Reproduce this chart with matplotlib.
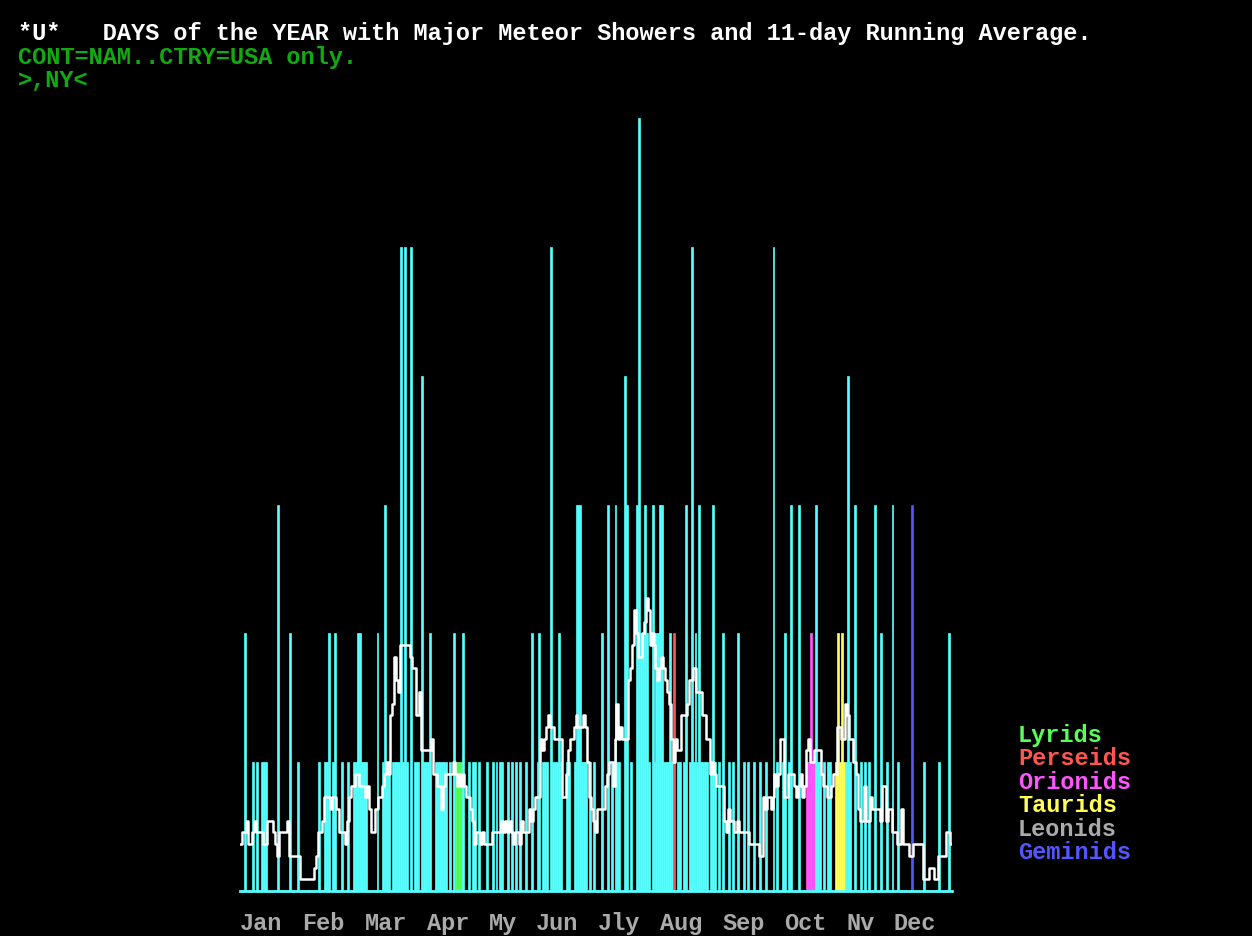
import re
import numpy as np
import pandas as pd
import matplotlib
matplotlib.use("Agg")
import matplotlib.pyplot as plt

W, H = 1252, 936

# day of year (0 = Jan 1) and count for that day, one line per month
bar_day = [
    2, 6, 8, 11, 12, 13, 19, 25, 29,
    40, 43, 44, 45, 47, 48, 52, 55, 58,
    59, 60, 61, 62, 63, 64, 70, 73, 74, 75, 76, 78, 79, 80, 81, 82, 83, 84, 85, 87, 89,
    90, 91, 93, 94, 95, 96, 97, 100, 101, 102, 103, 104, 105, 107, 109, 110, 111, 112, 113, 114, 117, 119,
    120, 122, 126, 129, 131, 133, 134, 137, 139, 141, 143, 146, 149,
    152, 153, 155, 156, 157, 159, 160, 161, 162, 163, 164, 167, 168, 171, 172, 173, 174, 175, 176, 177, 179,
    181, 185, 188, 190, 192, 193, 194, 197, 198, 200, 203, 204, 205, 206, 207, 208, 209, 211,
    212, 213, 214, 215, 216, 217, 218, 219, 220, 221, 222, 224, 225, 227, 228, 230, 231, 232, 233, 234,
    235, 236, 237, 238, 239, 241, 242,
    243, 245, 247, 250, 252, 255, 258, 260, 263, 266, 269,
    273, 275, 278, 279, 281, 282, 286, 290, 291, 292, 293, 294, 295, 296, 297, 299, 301, 302,
    305, 306, 307, 308, 309, 310, 311, 312, 315, 318, 320, 322, 325, 328, 331,
    334, 337, 344, 350, 358, 363,
]
bar_count = [
    2, 1, 1, 1, 1, 1, 3, 2, 1,
    1, 1, 1, 2, 1, 2, 1, 1, 1,
    1, 2, 2, 1, 1, 1, 2, 1, 3, 1, 1, 1, 1, 1, 1, 5, 1, 5, 1, 5, 1,
    1, 1, 4, 1, 1, 1, 2, 1, 1, 1, 1, 1, 1, 1, 2, 1, 1, 1, 1, 2, 1, 1,
    1, 1, 1, 1, 1, 1, 1, 1, 1, 1, 1, 1, 2,
    1, 2, 1, 1, 1, 5, 1, 1, 1, 2, 1, 1, 1, 1, 3, 3, 3, 1, 1, 1, 1,
    1, 2, 3, 1, 3, 1, 1, 4, 3, 1, 3, 6, 2, 2, 3, 2, 1, 3,
    1, 2, 2, 3, 3, 1, 1, 1, 2, 1, 2, 1, 1, 1, 3, 1, 5, 1, 2, 1,
    3, 1, 1, 1, 1, 1, 3,
    1, 1, 2, 1, 1, 2, 1, 1, 1, 1, 1,
    5, 1, 1, 2, 1, 3, 3, 1, 1, 2, 1, 1, 3, 1, 1, 1, 1, 1,
    1, 2, 1, 2, 1, 1, 4, 1, 3, 1, 1, 1, 3, 2, 1,
    3, 1, 3, 1, 1, 2,
]

shower_names = ["Lyrids", "Perseids", "Orionids", "Taurids", "Leonids", "Geminids"]
shower_colors = ["#55ff55", "#ff5555", "#ff55ff", "#ffff55", "#aaaaaa", "#5555ff"]
shower_days = [[110, 111, 112, 113], [222], [290, 291, 292, 293, 294],
               [305, 306, 307, 308, 309], [], [344]]

title = "*U*   DAYS of the YEAR with Major Meteor Showers and 11-day Running Average."
subtitle = "CONT=NAM..CTRY=USA only."
place = ">,NY<"
month_labels = "Jan Feb Mar Apr My Jun Jly Aug Sep Oct Nv Dec"

CYAN = "#55ffff"
GREEN = "#11aa11"
MONO = "Liberation Mono"
FS = 17

counts = np.zeros(365)
counts[bar_day] = bar_count
colors = [CYAN] * 365
for days, col in zip(shower_days, shower_colors):
    for d in days:
        colors[d] = col

# 11-day running average, wrapping round the year
ext = np.concatenate([counts[-5:], counts, counts[:5]])
avg = pd.Series(ext).rolling(11, center=True).mean().values[5:-5]

fig = plt.figure(figsize=(W / 100, H / 100), dpi=100, facecolor="black")
ax = fig.add_axes([240 / W, (H - 891) / H, 712 / W, (891 - 118) / H])
ax.set_facecolor("black")
ax.bar(np.arange(365), counts, width=1.0, align="edge", color=colors,
       edgecolor=colors, linewidth=0.5)
ax.step(np.arange(366), np.append(avg, avg[-1]), where="post", color="white", lw=1.8)
ax.axhline(0, color=CYAN, lw=2, clip_on=False)
ax.set_xlim(0, 365)
ax.set_ylim(0, 6)
ax.axis("off")


def put(x, y, s, color):
    # y is the text baseline, in pixels from the top
    fig.text(x / W, 1 - y / H, s, color=color, family=MONO, fontsize=FS,
             fontweight="bold", ha="left", va="baseline")


put(18, 40, title, "white")
put(18, 64, subtitle, GREEN)
put(18, 87, place, GREEN)

# month names sit on fixed character columns under the days
for m in re.finditer(r"\S+", month_labels):
    put(240 + m.start() * 15.55, 930, m.group(), "#aaaaaa")

for i, (name, col) in enumerate(zip(shower_names, shower_colors)):
    put(1018, 742 + i * 23.4, name, col)

fig.savefig("out.png", dpi=100, facecolor="black")
